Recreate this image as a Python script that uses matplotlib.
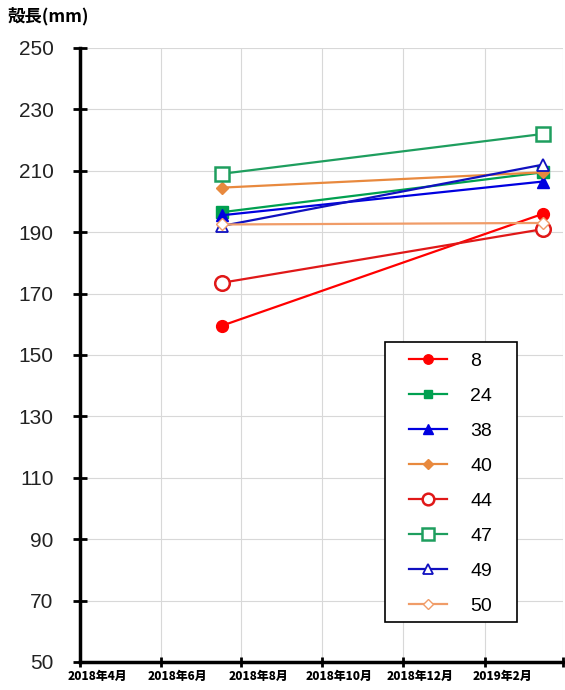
import datetime as dt
import matplotlib.pyplot as plt
import matplotlib.transforms as mtransforms
from matplotlib.patches import Rectangle

plt.rcParams['font.family'] = ['Liberation Sans', 'Noto Sans CJK JP', 'DejaVu Sans']

# survey dates and shell length (mm) per individual
dates = [dt.date(2018, 7, 17), dt.date(2019, 3, 17)]
ids = ['8', '24', '38', '40', '44', '47', '49', '50']
lengths = {
    '8': [159.5, 196.0],
    '24': [196.5, 209.5],
    '38': [195.5, 206.5],
    '40': [204.5, 209.5],
    '44': [173.5, 191.0],
    '47': [209.0, 222.0],
    '49': [192.0, 212.0],
    '50': [192.5, 193.0],
}
tick_dates = [dt.date(2018, 4, 1), dt.date(2018, 6, 1), dt.date(2018, 8, 1),
              dt.date(2018, 10, 1), dt.date(2018, 12, 1), dt.date(2019, 2, 1),
              dt.date(2019, 4, 1)]
tick_labels = ['2018年4月', '2018年6月', '2018年8月', '2018年10月',
               '2018年12月', '2019年2月', '']

styles = {
    '8': dict(color='#FF0000', marker='o', ms=8.5, mfc='#FF0000'),
    '24': dict(color='#00A050', marker='s', ms=8, mfc='#00A050'),
    '38': dict(color='#0000E0', marker='^', ms=8.5, mfc='#0000E0'),
    '40': dict(color='#E8893E', marker='D', ms=6.5, mfc='#E8893E'),
    '44': dict(color='#E01818', marker='o', ms=10.5, mfc='white', mew=1.8),
    '47': dict(color='#1E9E5E', marker='s', ms=10.5, mfc='white', mew=1.8),
    '49': dict(color='#1010C0', marker='^', ms=9, mfc='white', mew=1.3),
    '50': dict(color='#F09C68', marker='D', ms=6.5, mfc='white', mew=1.0),
}

fig = plt.figure(figsize=(5.65, 6.9), dpi=100)
ax = fig.add_axes([0.1416, 0.0406, 0.8549, 0.8899])

for k in ids:
    ax.plot(dates, lengths[k], lw=1.6, label=k, **styles[k])

ax.set_xlim(tick_dates[0], tick_dates[-1])
ax.set_ylim(50, 250)
ax.set_yticks(range(50, 251, 20))
ax.set_xticks(tick_dates)
ax.set_xticklabels(tick_labels, fontfamily=['Noto Sans CJK JP'],
                   fontweight='heavy', fontsize=8.5)
ax.tick_params(axis='y', direction='inout', length=10, width=2, labelsize=15,
               pad=14, labelcolor='#222222')
ax.tick_params(axis='x', direction='inout', length=7, width=2, pad=2)

# month labels sit a little to the right of their ticks
shift = mtransforms.ScaledTranslation(0.17, 0, fig.dpi_scale_trans)
for lab in ax.get_xticklabels():
    lab.set_transform(lab.get_transform() + shift)

ax.grid(True, color='#d8d8d8', lw=0.8)
ax.set_axisbelow(True)
for s in ['top', 'right']:
    ax.spines[s].set_visible(False)
for s in ['left', 'bottom']:
    ax.spines[s].set_linewidth(2.5)

fig.text(0.014, 0.977, '殻長(mm)', fontsize=12.5, fontweight='bold',
         fontfamily=['Noto Sans CJK JP'], ha='left', va='center')

# legend box drawn separately so its padding can be set freely
ax.add_patch(Rectangle((0.6315, 0.0651), 0.2733, 0.456, transform=ax.transAxes,
                       facecolor='white', edgecolor='black', lw=1.2, zorder=4))
leg = ax.legend(loc='upper left', bbox_to_anchor=(0.681, 0.505), fontsize=14,
                handlelength=1.96, labelspacing=0.9, borderpad=0,
                handletextpad=1.2, borderaxespad=0, frameon=False,
                markerscale=0.8)
leg.set_zorder(5)

fig.savefig('out.png', dpi=100)
